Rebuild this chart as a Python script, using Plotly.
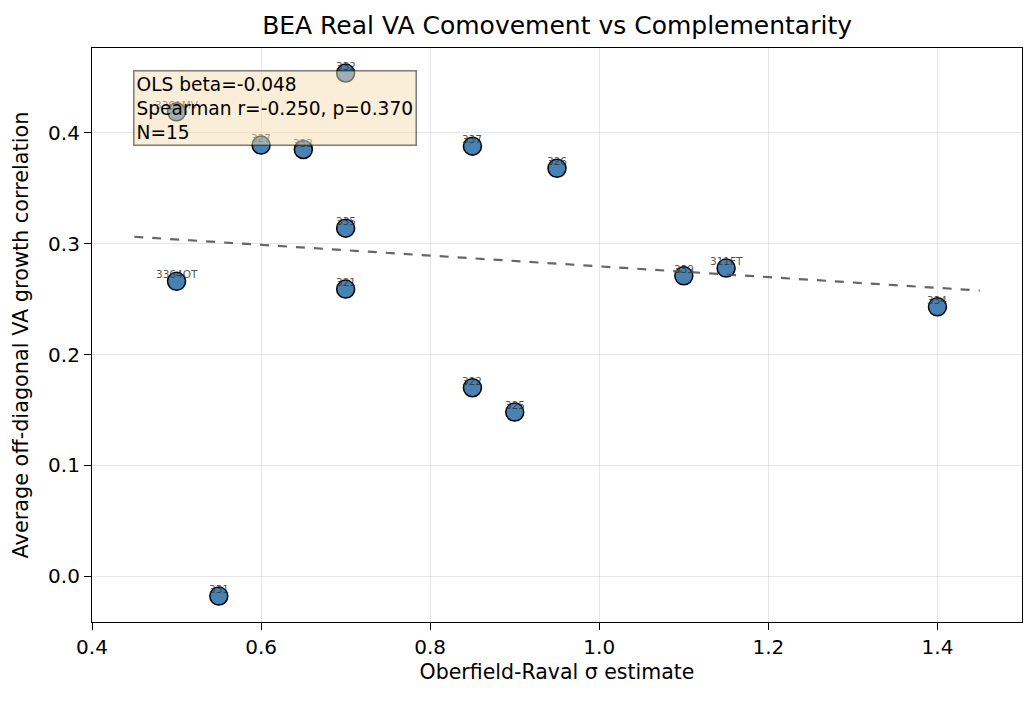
import numpy as np
import plotly.graph_objects as go

labels = ["3361MV", "332", "327", "333", "337", "326", "335", "321", "3364OT",
          "322", "325", "339", "311FT", "334", "331"]
sigma = [0.50, 0.70, 0.60, 0.65, 0.85, 0.95, 0.70, 0.70, 0.50,
         0.85, 0.90, 1.10, 1.15, 1.40, 0.55]
corr = [0.419, 0.454, 0.389, 0.385, 0.388, 0.368, 0.314, 0.259, 0.266,
        0.170, 0.148, 0.271, 0.278, 0.243, -0.018]
stats_text = ["OLS beta=-0.048", "Spearman r=-0.250, p=0.370", "N=15"]

x = np.array(sigma)
y = np.array(corr)
b, a = np.polyfit(x, y, 1)
xfit = np.array([0.45, 1.45])
yfit = a + b * xfit

fig = go.Figure()
fig.add_trace(go.Scatter(
    x=sigma, y=corr, mode="markers",
    marker=dict(size=18, color="#4682b4", line=dict(color="black", width=1.5)),
    showlegend=False, hoverinfo="text", text=labels))
fig.add_trace(go.Scatter(
    x=xfit, y=yfit, mode="lines",
    line=dict(color="rgba(85,85,85,0.9)", width=2.2, dash="dash"),
    showlegend=False))

for lab, xx, yy in zip(labels, sigma, corr):
    fig.add_annotation(x=xx, y=yy, text=lab, showarrow=False, yshift=7,
                       font=dict(size=10.5, color="rgba(51,51,51,0.85)"))

fig.add_annotation(
    xref="paper", yref="paper", x=0.044, y=0.962, xanchor="left", yanchor="top",
    text="<br>".join(stats_text), align="left", showarrow=False,
    font=dict(size=18.6, color="black"),
    bgcolor="rgba(245,222,179,0.5)", bordercolor="rgba(0,0,0,0.5)",
    borderwidth=1.5, borderpad=2)

axis_common = dict(showline=True, linecolor="black", linewidth=1.2, mirror=True,
                   ticks="outside", ticklen=7, tickwidth=1.2, tickcolor="black",
                   showgrid=True, gridcolor="rgba(176,176,176,0.3)", gridwidth=1,
                   zeroline=False, tickfont=dict(size=20, color="black"))

fig.update_layout(
    width=1036, height=701,
    margin=dict(l=84, r=22, t=40, b=87),
    plot_bgcolor="white", paper_bgcolor="white",
    font=dict(family="DejaVu Sans", color="black"),
    title=dict(text="BEA Real VA Comovement vs Complementarity", x=0.53, xanchor="center",
               y=0.975, yanchor="middle", font=dict(size=25)),
    xaxis=dict(range=[0.4, 1.5], tickvals=[0.4, 0.6, 0.8, 1.0, 1.2, 1.4],
               ticktext=["0.4", "0.6", "0.8", "1.0", "1.2", "1.4"],
               title=dict(text="Oberfield-Raval σ estimate", font=dict(size=20.5), standoff=6),
               **axis_common),
    yaxis=dict(range=[-0.0414, 0.4766], tickvals=[0.0, 0.1, 0.2, 0.3, 0.4],
               ticktext=["0.0", "0.1", "0.2", "0.3", "0.4"],
               title=dict(text="Average off-diagonal VA growth correlation", font=dict(size=20.8), standoff=13),
               **axis_common),
)

fig.write_html("out.html")
